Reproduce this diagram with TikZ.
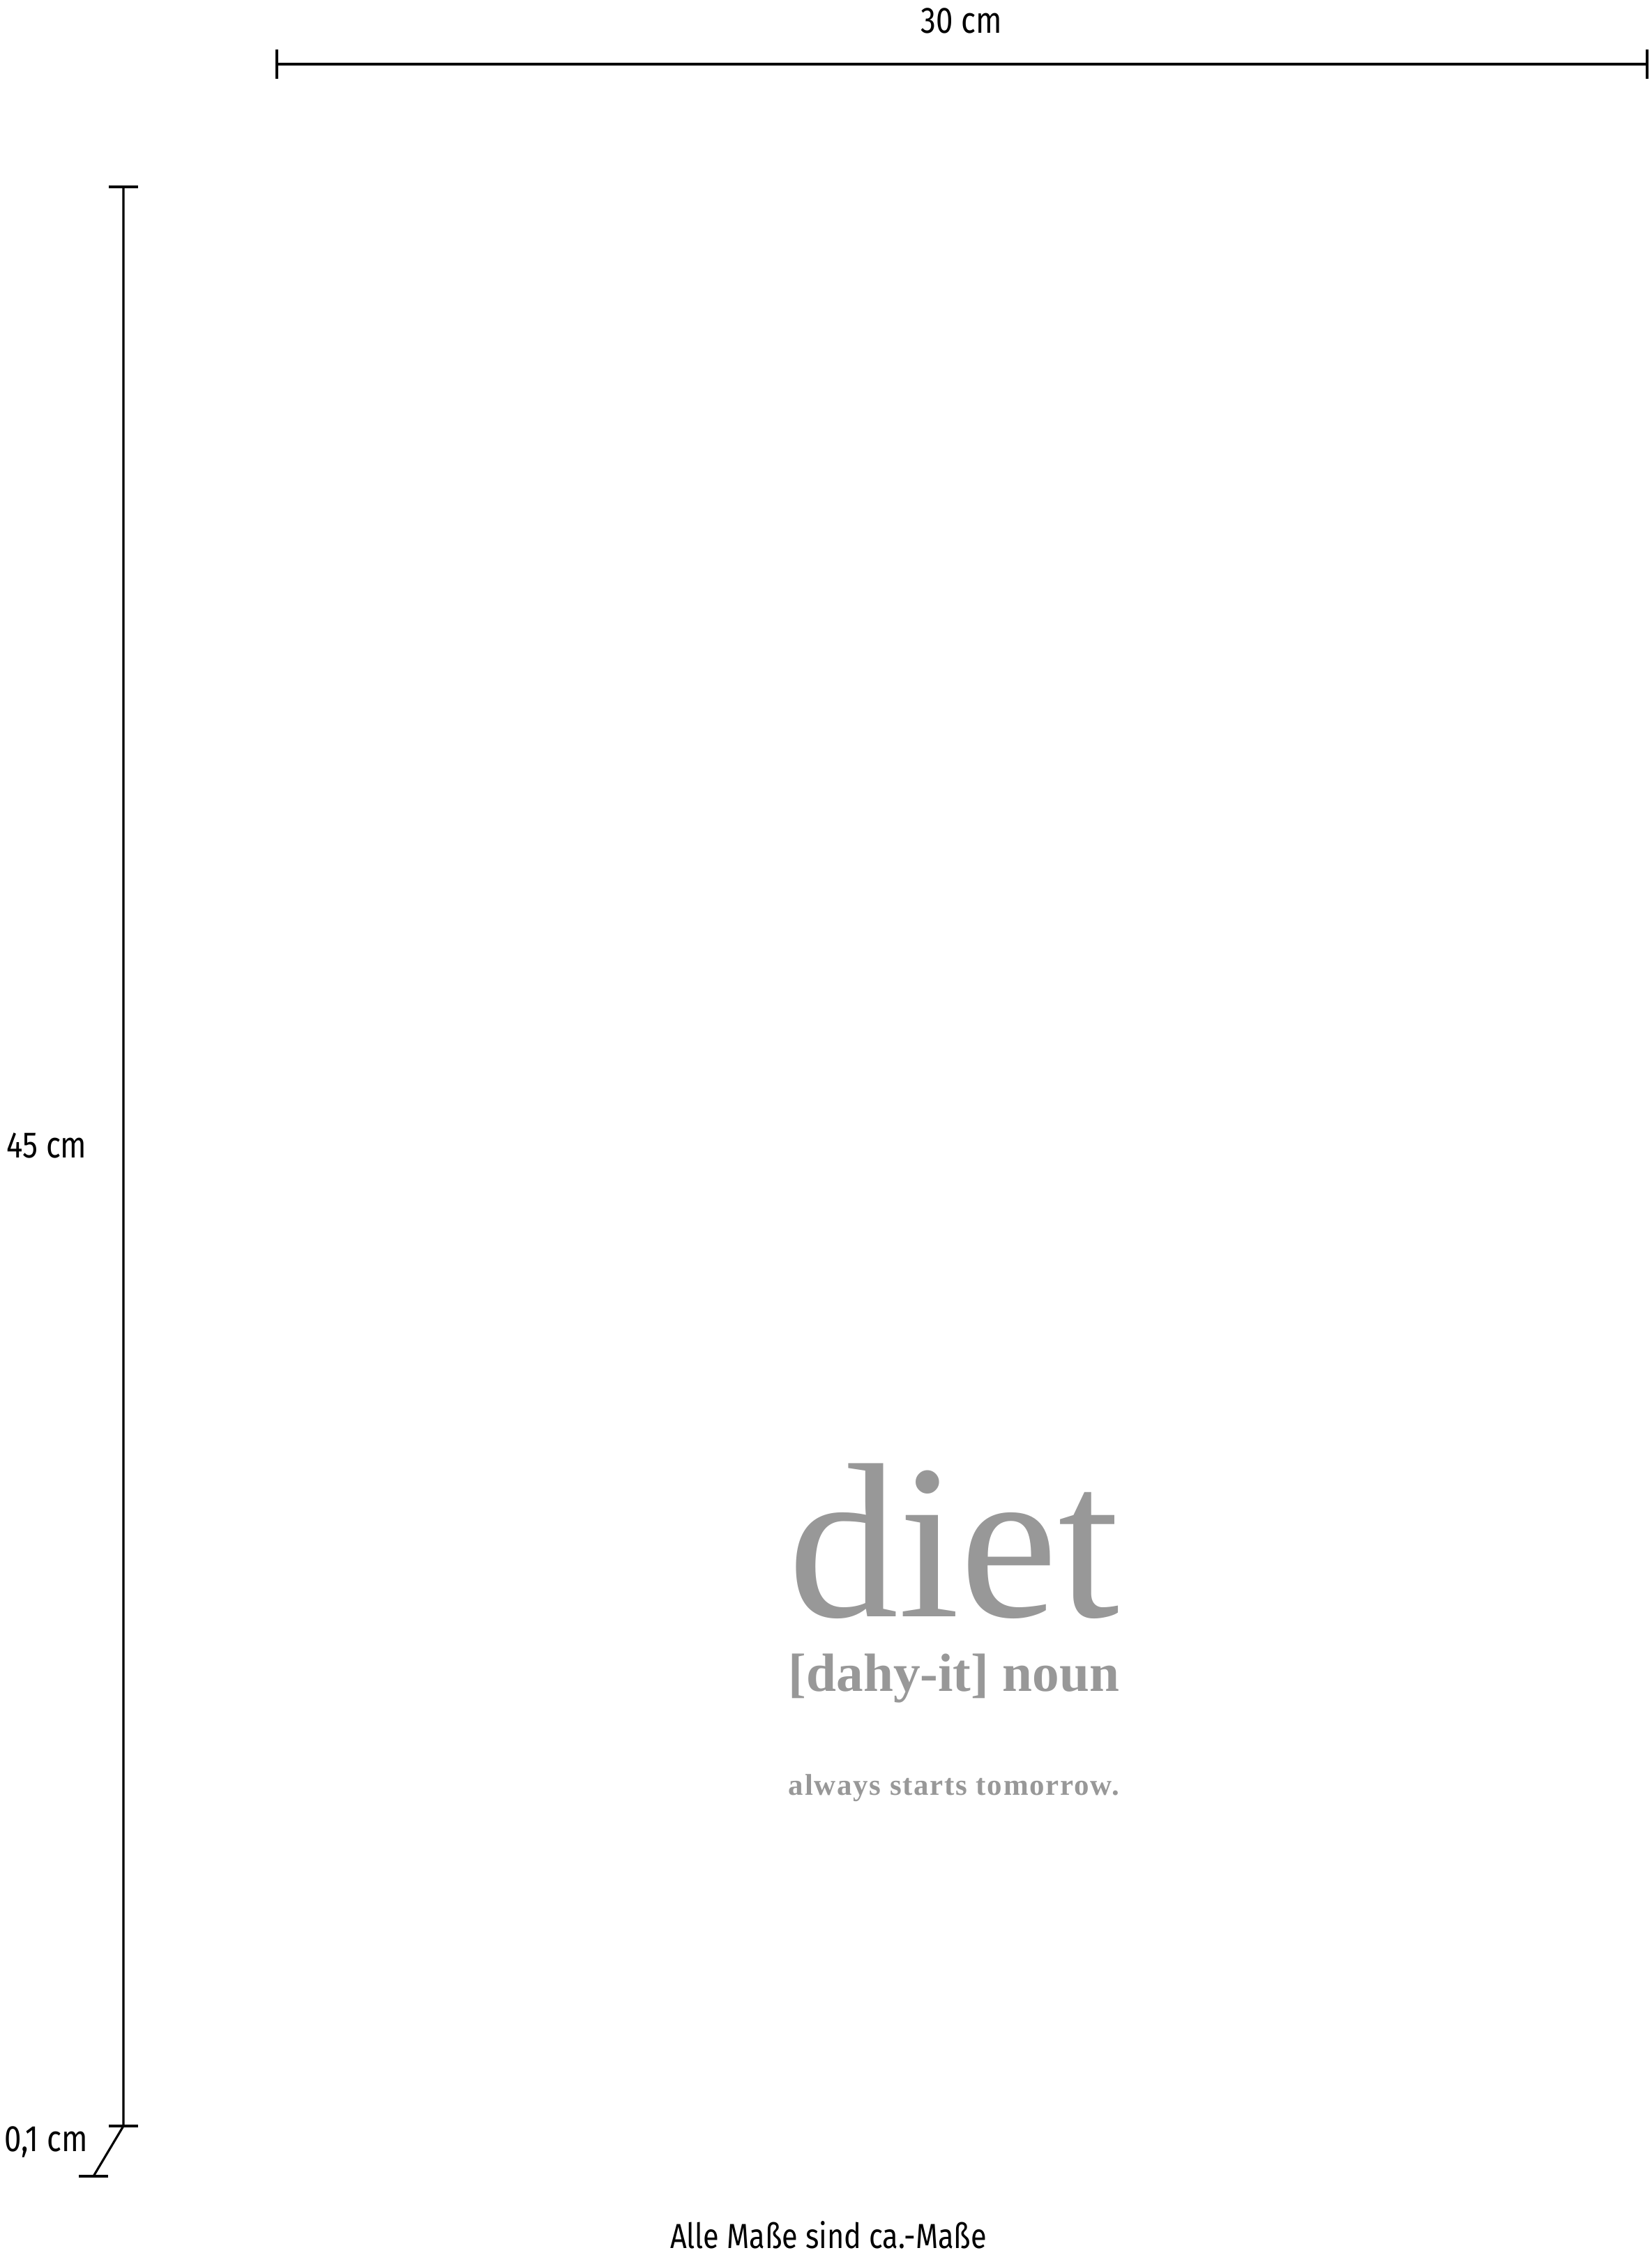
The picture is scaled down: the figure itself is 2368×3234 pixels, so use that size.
\documentclass[tikz,border=0pt]{standalone}
\usepackage{fontspec}
\setmainfont{Liberation Serif}
\setsansfont[FakeStretch=0.83]{Fira Sans}
\newfontfamily\spacedserif[LetterSpace=4]{Liberation Serif}
\usetikzlibrary{positioning, calc}
\definecolor{dtGray}{RGB}{152,152,152}

\begin{document}
\begin{tikzpicture}[
  x=0.01cm, y=-0.01cm,
  dimline/.style={draw=black, line width=0.9pt},
  dimlabel/.style={inner sep=0pt, font=\sffamily\fontsize{15}{17}\selectfont},
  word/.style={inner sep=0pt, text=dtGray, anchor=base}
]
  \useasboundingbox (0,0) rectangle (2368,3234);
  % width
  \coordinate (wL) at (397,92);
  \coordinate (wR) at (2362,92);
  \draw[dimline] (wL) -- (wR);
  \draw[dimline] ($(wL)+(0,-21)$) -- ($(wL)+(0,21)$);
  \draw[dimline] ($(wR)+(0,-21)$) -- ($(wR)+(0,21)$);
  \node[dimlabel, anchor=base] (wlab) at (1379,48) {30 cm};
  % height and depth
  \coordinate (hT) at (177,268);
  \coordinate (hB) at (177,3049);
  \coordinate (dB) at (134,3121);
  \draw[dimline] (hT) -- (hB) -- (dB);
  \draw[dimline] ($(hT)+(-21,0)$) -- ($(hT)+(21,0)$);
  \draw[dimline] ($(hB)+(-21,0)$) -- ($(hB)+(21,0)$);
  \draw[dimline] ($(dB)+(-21,0)$) -- ($(dB)+(21,0)$);
  \node[dimlabel, anchor=base west] (hlab) at (9,1660) {45 cm};
  \node[dimlabel, anchor=base west] (dlab) at (6,3085) {0,1 cm};
  % motif
  \node[word] (diet) at (1368,2318) {\resizebox{4.74cm}{!}{diet}};
  \node[word] (pron) at (1368,2425) {\resizebox{4.74cm}{!}{\bfseries [dahy-it] noun}};
  \node[word] (quote) at (1368,2574) {\resizebox{4.74cm}{!}{\spacedserif\bfseries always starts tomorrow.}};
  % note
  \node[inner sep=0pt, anchor=base, font=\sffamily\fontsize{14.2}{16}\selectfont] (note) at (1188,3224) {Alle Maße sind ca.-Maße};
\end{tikzpicture}
\end{document}
